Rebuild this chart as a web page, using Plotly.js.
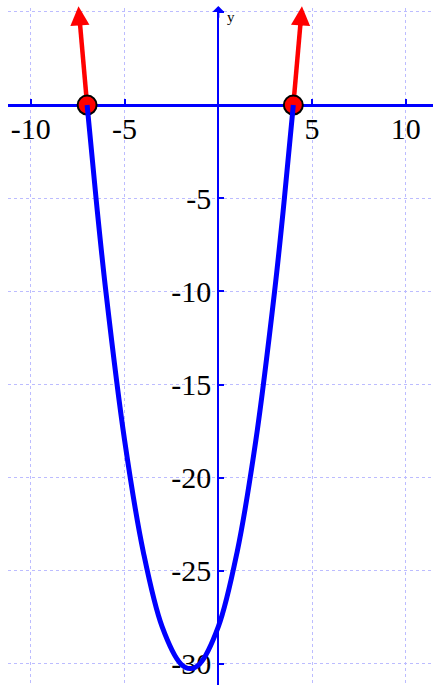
<!DOCTYPE html>
<html>
<head>
<meta charset="utf-8">
<script src="https://cdn.plot.ly/plotly-3.0.1.min.js"></script>
<style>
  html, body { margin: 0; padding: 0; background: #fff; }
  #chart { width: 433px; height: 685px; }
</style>
</head>
<body>
<div id="chart"></div>
<script>
// y = x^2 + 3x - 28, sampled values (part below the x-axis)
const curveX = [-7, -6.5, -6, -5, -4, -3, -2, -1.5, -1, 0, 1, 2, 3, 3.5, 4];
const curveY = [0, -5.25, -10, -18, -24, -28, -30, -30.25, -30, -28, -24, -18, -10, -5.25, 0];

// x-intercepts
const rootX = [-7, 4];
const rootY = [0, 0];

// red branches above the x-axis: start at the roots, arrow tips at the top
const leftArmX = [-7, -7.22, -7.40];
const leftArmY = [0, 2.5, 4.6];
const rightArmX = [4, 4.22, 4.40];
const rightArmY = [0, 2.5, 4.6];
const arrowTipX = [-7.46, 4.46];
const arrowTipY = [5.3, 5.3];

// axis ticks
const xTickVals = [-10, -5, 5, 10];
const xTickText = ['-10', '-5', '5', '10'];
const yTickVals = [5, -5, -10, -15, -20, -25, -30];
const yTickText = ['', '-5', '-10', '-15', '-20', '-25', '-30'];

const xRange = [-11.22, 11.45];
const yRange = [-31.13, 5.21];

const blue = '#0000ff';
const red = '#ff0000';
const gridColor = '#bcbcff';
const serif = 'Liberation Serif, Times New Roman, serif';

const traces = [
  { x: leftArmX, y: leftArmY, mode: 'lines', line: { color: red, width: 4.5 }, hoverinfo: 'skip' },
  { x: rightArmX, y: rightArmY, mode: 'lines', line: { color: red, width: 4.5 }, hoverinfo: 'skip' },
  { x: rootX, y: rootY, mode: 'markers',
    marker: { size: 19, color: red, line: { color: '#000', width: 2 } }, hoverinfo: 'skip' },
  { x: curveX, y: curveY, mode: 'lines',
    line: { color: blue, width: 5, shape: 'spline', smoothing: 1 }, hoverinfo: 'skip' }
];

const annotations = [
  // arrow heads on the red branches
  { x: arrowTipX[0], y: arrowTipY[0], ax: leftArmX[2] + 0.02, ay: leftArmY[2] - 0.4,
    xref: 'x', yref: 'y', axref: 'x', ayref: 'y', text: '', showarrow: true,
    arrowhead: 2, arrowsize: 0.85, arrowwidth: 4.5, arrowcolor: red, standoff: 0 },
  { x: arrowTipX[1], y: arrowTipY[1], ax: rightArmX[2] - 0.02, ay: rightArmY[2] - 0.4,
    xref: 'x', yref: 'y', axref: 'x', ayref: 'y', text: '', showarrow: true,
    arrowhead: 2, arrowsize: 0.85, arrowwidth: 4.5, arrowcolor: red, standoff: 0 },
  // arrow on the y-axis
  { x: 0, y: 5.32, ax: 0, ay: 4.6, xref: 'x', yref: 'y', axref: 'x', ayref: 'y',
    text: '', showarrow: true, arrowhead: 1, arrowsize: 1, arrowwidth: 2,
    arrowcolor: blue, standoff: 0 },
  { x: 0.66, y: 4.72, xref: 'x', yref: 'y', text: 'y', showarrow: false,
    xanchor: 'center', yanchor: 'middle', font: { family: serif, size: 15, color: '#000' } }
];

const layout = {
  width: 433,
  height: 685,
  margin: { l: 8, r: 0, t: 8, b: 0 },
  paper_bgcolor: '#fff',
  plot_bgcolor: '#fff',
  showlegend: false,
  xaxis: {
    range: xRange,
    anchor: 'free',
    position: (0 - yRange[0]) / (yRange[1] - yRange[0]),
    tickmode: 'array', tickvals: xTickVals, ticktext: xTickText,
    tickfont: { family: serif, size: 30, color: '#000' },
    ticklabelstandoff: -4,
    ticks: 'inside', ticklen: 5, tickwidth: 2, tickcolor: blue,
    showline: true, linecolor: blue, linewidth: 2.5,
    showgrid: true, gridcolor: gridColor, gridwidth: 1, griddash: 'dot',
    zeroline: false, layer: 'below traces', fixedrange: true
  },
  yaxis: {
    range: yRange,
    anchor: 'free',
    position: (0 - xRange[0]) / (xRange[1] - xRange[0]),
    tickmode: 'array', tickvals: yTickVals, ticktext: yTickText,
    tickfont: { family: serif, size: 30, color: '#000' },
    ticks: 'inside', ticklen: 5, tickwidth: 2, tickcolor: blue,
    showline: true, linecolor: blue, linewidth: 2,
    showgrid: true, gridcolor: gridColor, gridwidth: 1, griddash: 'dot',
    zeroline: false, layer: 'below traces', fixedrange: true
  },
  annotations: annotations
};

Plotly.newPlot('chart', traces, layout, { displayModeBar: false, staticPlot: true });
</script>
</body>
</html>
